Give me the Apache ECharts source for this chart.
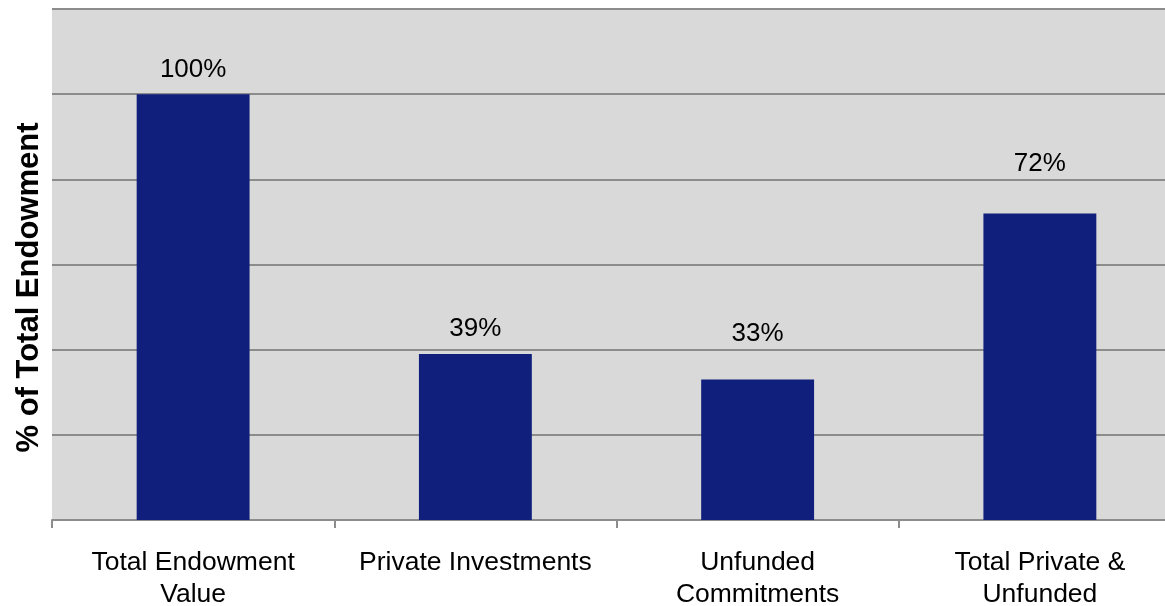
<!DOCTYPE html>
<html>
<head>
<meta charset="utf-8">
<script src="https://cdn.jsdelivr.net/npm/echarts@6/dist/echarts.min.js"></script>
<style>
  html, body { margin: 0; padding: 0; background: #ffffff; }
  #chart { width: 1165px; height: 606px; }
</style>
</head>
<body>
<div id="chart"></div>
<script>
const categories = [
  "Total Endowment\nValue",
  "Private Investments",
  "Unfunded\nCommitments",
  "Total Private &\nUnfunded"
];
const shares = [100, 39, 33, 72];

// label gaps above each bar (the labels sit unevenly in the original)
const labelGaps = [11, 12, 33, 37];

const chart = echarts.init(document.getElementById("chart"));

chart.setOption({
  animation: false,
  textStyle: { fontFamily: "Liberation Sans, Arial, sans-serif" },
  grid: {
    left: 52,
    width: 1129,
    top: 9,
    bottom: 86,
    outerBoundsMode: "none",
    show: true,
    backgroundColor: "#d9d9d9",
    borderWidth: 0
  },
  xAxis: {
    type: "category",
    data: categories,
    axisLine: { lineStyle: { color: "#8c8c8c", width: 2 } },
    axisTick: { show: true, length: 8, lineStyle: { color: "#8c8c8c", width: 2 } },
    axisLabel: {
      color: "#000000",
      fontSize: 26.5,
      lineHeight: 32,
      margin: 27,
      interval: 0
    }
  },
  yAxis: {
    type: "value",
    min: 0,
    max: 120,
    interval: 20,
    name: "% of Total Endowment",
    nameLocation: "middle",
    nameGap: 7,
    nameTextStyle: {
      color: "#000000",
      fontSize: 31,
      fontWeight: "bold",
      padding: [0, 46, 0, 0]
    },
    axisLine: { show: false },
    axisTick: { show: false },
    axisLabel: { show: false },
    splitLine: { lineStyle: { color: "#8c8c8c", width: 2 } }
  },
  series: [
    {
      type: "bar",
      data: shares.map((v, i) => ({ value: v, label: { distance: labelGaps[i] } })),
      barWidth: "40%",
      itemStyle: { color: "#0f1f7b" },
      label: {
        show: true,
        position: "top",
        color: "#000000",
        fontSize: 26,
        formatter: "{c}%"
      }
    }
  ]
});
</script>
</body>
</html>
